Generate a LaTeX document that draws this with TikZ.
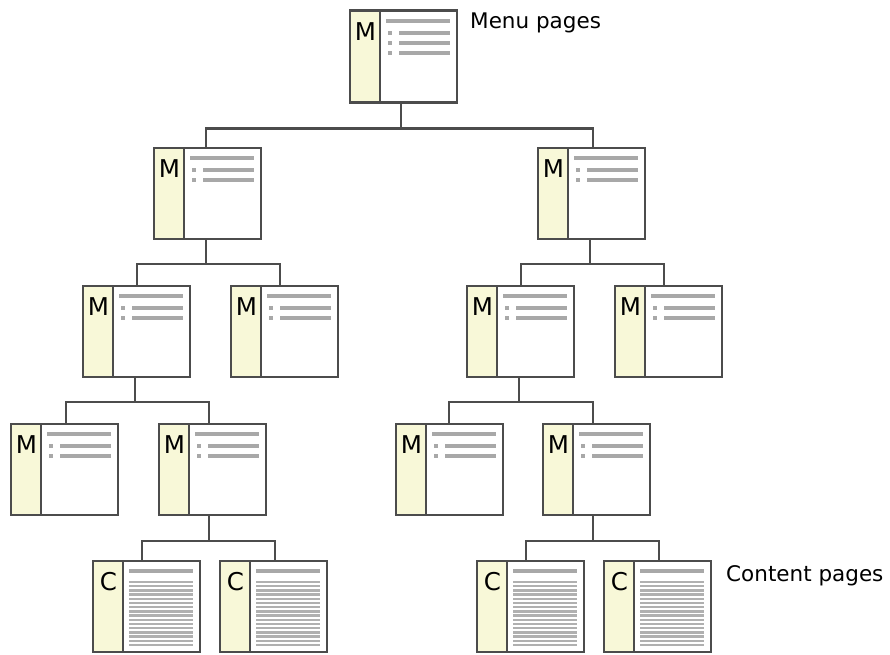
\documentclass[tikz,border=0pt]{standalone}
\usepackage{fontspec}
\setmainfont{DejaVu Sans}
\definecolor{edge}{HTML}{4C4C4C}
\definecolor{cream}{HTML}{F8F8D8}
\definecolor{txt}{HTML}{A8A8A8}
\definecolor{txtlight}{HTML}{B0B0B0}
\tikzset{
  page/.style={draw=edge, line width=2.6pt, fill=white, minimum width=107pt,
    inner sep=0pt, outer sep=0pt, anchor=north west},
  divider/.style={draw=edge, line width=2.6pt},
  link/.style={draw=edge, line width=2.6pt},
  textline/.style={draw=txt, line width=4pt},
  fineline/.style={draw=txtlight, line width=2.3pt},
  bullet/.style={fill=txt},
  letter/.style={font=\fontsize{24.5}{24.5}\selectfont, text=black, inner sep=0pt, anchor=base},
  label/.style={font=\fontsize{21.5}{21.5}\selectfont, text=black, inner sep=0pt, anchor=base west},
}
\newcommand\MenuPage[5]{%
  \node[page, minimum height=#4pt] (#1) at (#2,#3) {};
  \begin{scope}[shift={(#1.north west)}]
    \fill[cream] (1.3,1.3) rectangle (30,#4-1.3);
    \draw[divider] (30,0) -- (30,#4);
    \node[letter] at (15.5,29.5) {M};
    \draw[textline] (36,10) -- (100,10);
    \foreach \k in {1,...,#5} {
      \fill[bullet] (38,12+10*\k-2) rectangle (42,12+10*\k+2);
      \draw[textline] (49,12+10*\k) -- (100,12+10*\k);
    }
  \end{scope}
}
\newcommand\ContentPage[3]{%
  \node[page, minimum height=91pt] (#1) at (#2,#3) {};
  \begin{scope}[shift={(#1.north west)}]
    \fill[cream] (1.3,1.3) rectangle (30,89.7);
    \draw[divider] (30,0) -- (30,91);
    \node[letter] at (15.5,29.5) {C};
    \draw[textline] (36,9.5) -- (100,9.5);
    \foreach \k in {0,...,15} {
      \draw[fineline] (36,21+4.2*\k) -- (100,21+4.2*\k);
    }
  \end{scope}
}
\begin{document}
\begin{tikzpicture}[x=1pt, y=-1pt]
\useasboundingbox (0,0) rectangle (890,654);
% pages
\MenuPage{T}{350}{10.5}{92}{3}
\MenuPage{A}{154}{148}{91}{2}
\MenuPage{B}{538}{148}{91}{2}
\MenuPage{AA}{83}{286}{91}{2}
\MenuPage{AB}{231}{286}{91}{2}
\MenuPage{BA}{467}{286}{91}{2}
\MenuPage{BB}{615}{286}{91}{2}
\MenuPage{AAA}{11}{424}{91}{2}
\MenuPage{AAB}{159}{424}{91}{2}
\MenuPage{BAA}{396}{424}{91}{2}
\MenuPage{BAB}{543}{424}{91}{2}
\ContentPage{C1}{93}{561}
\ContentPage{C2}{220}{561}
\ContentPage{C3}{477}{561}
\ContentPage{C4}{604}{561}
% connectors
\draw[link] ([xshift=-2.5pt]T.south) -- ++(0,26) -| ([xshift=-1.5pt]A.north);
\draw[link] ([xshift=-2.5pt]T.south) -- ++(0,26) -| ([xshift=1.5pt]B.north);
\draw[link] ([xshift=-1.5pt]A.south) -- ++(0,25) -| ([xshift=0.5pt]AA.north);
\draw[link] ([xshift=-1.5pt]A.south) -- ++(0,25) -| ([xshift=-4.5pt]AB.north);
\draw[link] ([xshift=-1.5pt]B.south) -- ++(0,25) -| ([xshift=0.5pt]BA.north);
\draw[link] ([xshift=-1.5pt]B.south) -- ++(0,25) -| ([xshift=-4.5pt]BB.north);
\draw[link] ([xshift=-1.5pt]AA.south) -- ++(0,25) -| ([xshift=1.5pt]AAA.north);
\draw[link] ([xshift=-1.5pt]AA.south) -- ++(0,25) -| ([xshift=-3.5pt]AAB.north);
\draw[link] ([xshift=-1.5pt]BA.south) -- ++(0,25) -| ([xshift=-0.5pt]BAA.north);
\draw[link] ([xshift=-1.5pt]BA.south) -- ++(0,25) -| ([xshift=-3.5pt]BAB.north);
\draw[link] ([xshift=-3.5pt]AAB.south) -- ++(0,26) -| ([xshift=-4.5pt]C1.north);
\draw[link] ([xshift=-3.5pt]AAB.south) -- ++(0,26) -| ([xshift=1.5pt]C2.north);
\draw[link] ([xshift=-3.5pt]BAB.south) -- ++(0,26) -| ([xshift=-4.5pt]C3.north);
\draw[link] ([xshift=-3.5pt]BAB.south) -- ++(0,26) -| ([xshift=1.5pt]C4.north);
% labels
\node[label] (menulabel) at (470,28.5) {Menu pages};
\node[label] (contentlabel) at (726,581.5) {Content pages};
\end{tikzpicture}
\end{document}
